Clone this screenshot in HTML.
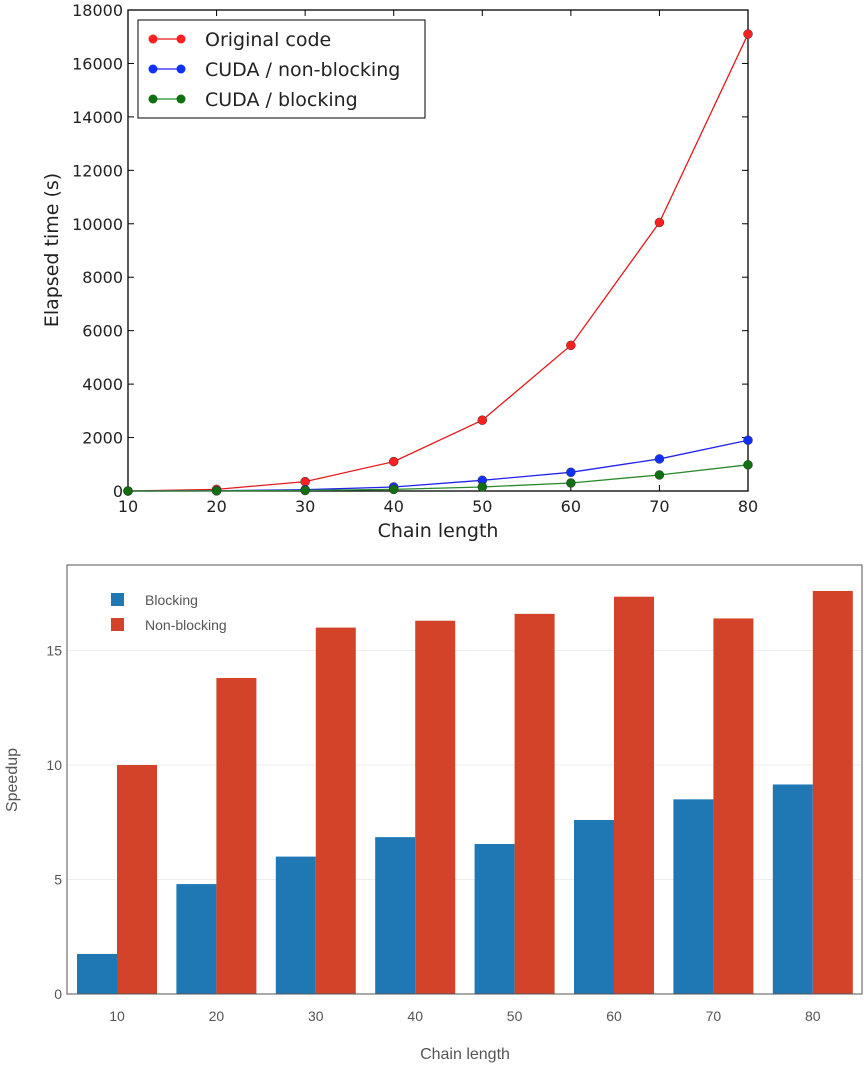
<!DOCTYPE html>
<html><head><meta charset="utf-8"><style>
html,body{margin:0;padding:0;background:#fff;}
svg{display:block;font-family:"DejaVu Sans","Liberation Sans",sans-serif;}
</style></head><body>
<svg id="c" width="864" height="1069"></svg>
<script>
const cats=[10,20,30,40,50,60,70,80];
const original=[0,60,350,1100,2650,5450,10050,17100];
const nonBlockingTime=[0,10,50,150,400,700,1200,1900];
const blockingTime=[0,5,20,60,150,300,600,980];
const yTicksTop=[0,2000,4000,6000,8000,10000,12000,14000,16000,18000];
const speedBlocking=[1.75,4.8,6.0,6.85,6.55,7.6,8.5,9.15];
const speedNonBlocking=[10.0,13.8,16.0,16.3,16.6,17.35,16.4,17.6];
const yTicksBottom=[0,5,10,15];

const NS="http://www.w3.org/2000/svg";
const svg=document.getElementById('c');
function mk(t,a,p){const e=document.createElementNS(NS,t);for(const k in a)e.setAttribute(k,a[k]);(p||svg).appendChild(e);return e;}

// Top chart
const L=128,R=748,T=10,B=491;
const xT=v=>L+(v-10)/70*(R-L);
const yT=v=>B-v/18000*(B-T);
const g1=mk('g',{});


mk('rect',{x:L,y:T,width:R-L,height:B-T,fill:'#fff',stroke:'#000','stroke-width':1.3},g1);
yTicksTop.forEach(v=>{
  const y=yT(v);
  mk('line',{x1:L,x2:L+6,y1:y,y2:y,stroke:'#000'},g1);
  mk('line',{x1:R,x2:R-6,y1:y,y2:y,stroke:'#000'},g1);
  const t=mk('text',{x:L-5,y:y+6,'text-anchor':'end','font-size':16,fill:'#222'},g1);t.textContent=v;
  
  
});
cats.forEach(v=>{
  const x=xT(v);
  mk('line',{x1:x,x2:x,y1:B,y2:B-6,stroke:'#000'},g1);
  mk('line',{x1:x,x2:x,y1:T,y2:T+6,stroke:'#000'},g1);
  const t=mk('text',{x:x,y:B+21,'text-anchor':'middle','font-size':16,fill:'#222'},g1);t.textContent=v;
  
  
});
const series=[[original,'#e41a1c','#ff2020','original-code'],[nonBlockingTime,'#2222ee','#1030ff','cuda-non-blocking'],[blockingTime,'#2a8a2a','#107010','cuda-blocking']];
series.forEach(([d,lc,mc,n])=>{
  const sg=mk('g',{},g1);
  
  
  mk('polyline',{points:d.map((v,i)=>xT(cats[i])+','+yT(v)).join(' '),fill:'none',stroke:lc,'stroke-width':1.3},sg);
  d.forEach((v,i)=>{const c=mk('circle',{cx:xT(cats[i]),cy:yT(v),r:4.5,fill:mc,stroke:'#333','stroke-width':0.5},sg);
    
    });
});
const lg=mk('g',{},g1);


mk('rect',{x:138,y:20,width:287,height:98,fill:'#fff',stroke:'#000','stroke-width':1},lg);
['Original code','CUDA / non-blocking','CUDA / blocking'].forEach((s,i)=>{
  const y=39+i*30;const c=series[i];
  mk('line',{x1:153,x2:181,y1:y,y2:y,stroke:c[1],'stroke-width':1.3},lg);
  mk('circle',{cx:153,cy:y,r:4.5,fill:c[2]},lg);mk('circle',{cx:181,cy:y,r:4.5,fill:c[2]},lg);
  const t=mk('text',{x:205,y:y+7,'font-size':19,fill:'#222'},lg);t.textContent=s;
  
  
});
let t=mk('text',{x:438,y:537,'text-anchor':'middle','font-size':19,fill:'#222'});t.textContent='Chain length';


t=mk('text',{x:0,y:0,'text-anchor':'middle','font-size':19,fill:'#222',transform:'translate(58,250) rotate(-90)'});t.textContent='Elapsed time (s)';



// Bottom chart
const L2=67,R2=862,T2=565,B2=994;
const yB=v=>B2-v/5*114.5;
const xB=i=>117+i*99.4;
const g2=mk('g',{});


yTicksBottom.forEach(v=>{
  const y=yB(v);
  if(v>0)mk('line',{x1:L2,x2:R2,y1:y,y2:y,stroke:'#eee'},g2);
  const t=mk('text',{x:L2-5,y:y+5,'text-anchor':'end','font-size':14,fill:'#555','font-family':'Liberation Sans'},g2);t.textContent=v;
  
  
});
cats.forEach((c,i)=>{
  const x=xB(i);
  let r=mk('rect',{x:x-40,y:yB(speedBlocking[i]),width:40,height:B2-yB(speedBlocking[i]),fill:'#1f77b4'},g2);
  
  
  r=mk('rect',{x:x,y:yB(speedNonBlocking[i]),width:40,height:B2-yB(speedNonBlocking[i]),fill:'#d2432a'},g2);
  
  
  const t=mk('text',{x:x,y:1021,'text-anchor':'middle','font-size':14,fill:'#555','font-family':'Liberation Sans'},g2);t.textContent=c;
  
  
});
mk('rect',{x:L2,y:T2,width:R2-L2,height:B2-T2,fill:'none',stroke:'#555','stroke-width':1},g2);
const lg2=mk('g',{},g2);


[['Blocking','#1f77b4'],['Non-blocking','#d2432a']].forEach(([s,c],i)=>{
  const y=600+i*25;
  mk('rect',{x:111,y:y-7,width:13,height:13,fill:c},lg2);
  const t=mk('text',{x:145,y:y+5,'font-size':14,fill:'#555','font-family':'Liberation Sans'},lg2);t.textContent=s;
  
  
});
t=mk('text',{x:465,y:1059,'text-anchor':'middle','font-size':16,fill:'#555','font-family':'Liberation Sans'});t.textContent='Chain length';


t=mk('text',{x:0,y:0,'text-anchor':'middle','font-size':16,fill:'#555','font-family':'Liberation Sans',transform:'translate(17,780) rotate(-90)'});t.textContent='Speedup';


</script>
</body></html>
